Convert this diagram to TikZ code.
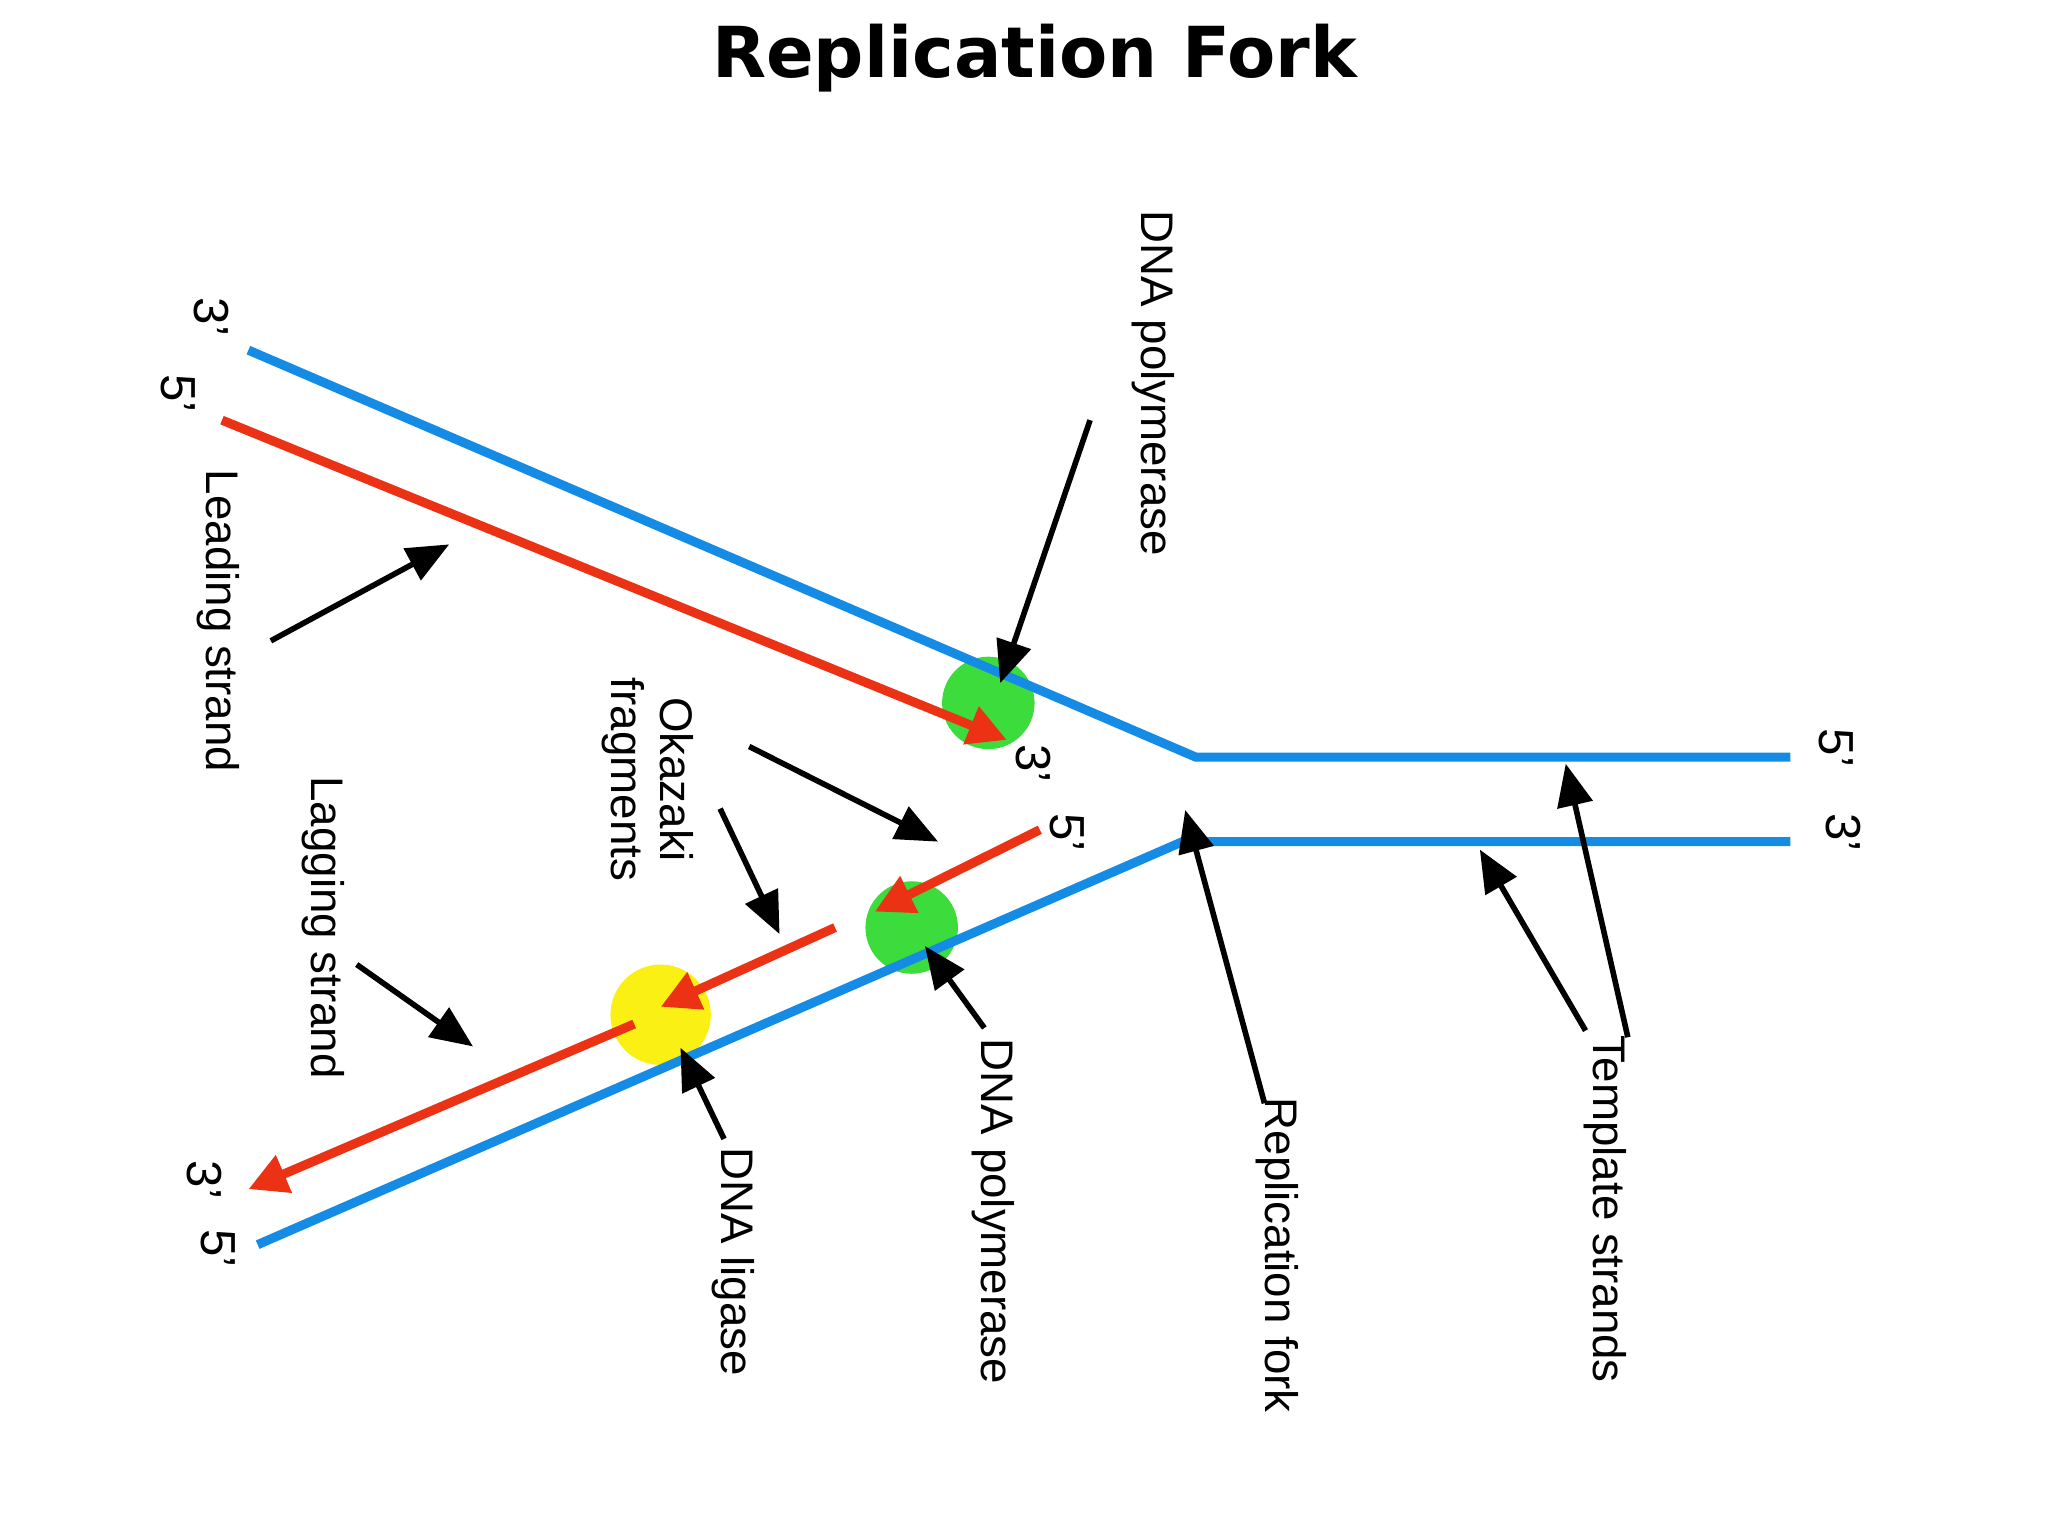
\documentclass[tikz,border=0pt]{standalone}
\usepackage{fontspec}
\setmainfont{Liberation Sans}
\newfontfamily\titlefont{DejaVu Sans}
\usetikzlibrary{arrows.meta}
\definecolor{strandblue}{RGB}{20,140,230}
\definecolor{strandred}{RGB}{235,50,20}
\definecolor{polygreen}{RGB}{60,220,60}
\definecolor{ligyellow}{RGB}{250,240,20}
\tikzset{
  template/.style={strandblue, line width=2.6pt},
  newstrand/.style={strandred, line width=2.6pt, -{Triangle[length=11pt,width=11pt]}},
  pointer/.style={line width=1.6pt, -{Triangle[length=12pt,width=10pt]}},
  lbl/.style={rotate=-90, font=\fontsize{13}{14}\selectfont, inner sep=0pt, align=center},
  endlbl/.style={rotate=-90, font=\fontsize{14}{15}\selectfont, inner sep=0pt}
}
\begin{document}
\begin{tikzpicture}[x=0.01321cm, y=-0.01321cm]
        \useasboundingbox (0,0) rectangle (1550,1162);

        % Title
        \node (title) at (783,44) {\titlefont\bfseries\fontsize{20}{24}\selectfont Replication Fork};

        % Enzymes
        \fill[polygreen] (748,532) circle (35);
        \fill[polygreen] (690,702) circle (35);
        \fill[ligyellow] (500,768) circle (38);

        % Template strands
        \coordinate (t1a) at (188,265); \coordinate (fork1) at (905,573); \coordinate (t1b) at (1355,573);
        \coordinate (t2a) at (195,942); \coordinate (fork2) at (895,637); \coordinate (t2b) at (1355,637);
        \draw[template] (t1a) -- (fork1) -- (t1b);
        \draw[template] (t2a) -- (fork2) -- (t2b);

        % New strands
        \coordinate (l1) at (168,318); \coordinate (l2) at (762,560);
        \draw[newstrand] (l1) -- (l2);
        \coordinate (f1) at (787,628); \coordinate (f2) at (662,690);
        \draw[newstrand] (f1) -- (f2);
        \coordinate (g1) at (632,702); \coordinate (g2) at (500,762);
        \draw[newstrand] (g1) -- (g2);
        \coordinate (h1) at (480,775); \coordinate (h2) at (188,900);
        \draw[newstrand] (h1) -- (h2);

        % End labels
        \node[endlbl] (e1) at (160,240) {3'};
        \node[endlbl] (e2) at (135,298) {5'};
        \node[endlbl] (e3) at (782,578) {3'};
        \node[endlbl] (e4) at (808,630) {5'};
        \node[endlbl] (e5) at (1390,566) {5'};
        \node[endlbl] (e6) at (1395,630) {3'};
        \node[endlbl] (e7) at (155,893) {3'};
        \node[endlbl] (e8) at (165,945) {5'};

        % Labels
        \node[lbl] (lead) at (165,470) {Leading strand};
        \node[lbl] (lag) at (245,702) {Lagging strand};
        \node[lbl] (oka) at (490,590) {Okazaki\\fragments};
        \node[lbl] (pol1) at (873,290) {DNA polymerase};
        \node[lbl] (pol2) at (752,917) {DNA polymerase};
        \node[lbl] (lig) at (555,955) {DNA ligase};
        \node[lbl] (fork) at (967,950) {Replication fork};
        \node[lbl] (temp) at (1215,915) {Template strands};

        % Pointers
        \coordinate (p1) at (205,485); \coordinate (q1) at (340,412);
        \coordinate (p2) at (825,318); \coordinate (q2) at (757,517);
        \coordinate (p3) at (567,565); \coordinate (q3) at (710,637);
        \coordinate (p4) at (545,612); \coordinate (q4) at (590,707);
        \coordinate (p5) at (270,730); \coordinate (q5) at (358,792);
        \coordinate (p6) at (745,778); \coordinate (q6) at (700,716);
        \coordinate (p7) at (548,862); \coordinate (q7) at (515,793);
        \coordinate (p8) at (957,835); \coordinate (q8) at (897,613);
        \coordinate (p9) at (1200,780); \coordinate (q9) at (1120,643);
        \coordinate (p10) at (1232,785); \coordinate (q10) at (1185,578);
        \foreach \i in {1,...,10} \draw[pointer] (p\i) -- (q\i);
\end{tikzpicture}
\end{document}
